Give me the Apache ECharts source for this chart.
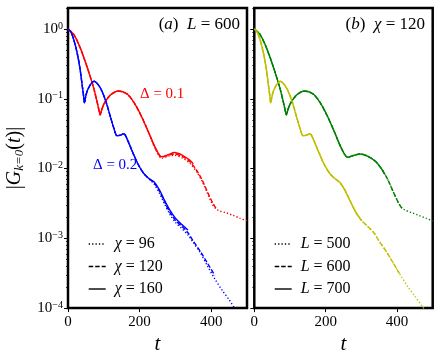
<!DOCTYPE html>
<html><head><meta charset="utf-8">
<script src="https://cdn.jsdelivr.net/npm/echarts@6/dist/echarts.min.js"></script>
<style>html,body{margin:0;padding:0;background:#fff}#c{width:440px;height:360px}</style>
</head><body><div id="c"></div>
<script>
const FONT = 'Liberation Serif';
// ---- shared early part (identical for all chi / L) ----
const tD01Early = [0,15,30,45,60,72,82,86,90,94,100,108,120,140,165,185,205,225];
const gD01Early = [1,0.851,0.603,0.380,0.224,0.141,0.0871,0.0708,0.0589,0.0692,0.0832,0.0977,0.115,0.129,0.117,0.0871,0.0562,0.0331];
const tD02Early = [0,8,16,25,33,40,44,46,49,53,58,65,73,83,93,106,118,128,137,147,156,167,180,195,210,225];
const gD02Early = [1,0.912,0.708,0.468,0.282,0.151,0.105,0.0871,0.105,0.126,0.145,0.166,0.178,0.162,0.135,0.0912,0.0562,0.0380,0.0295,0.0302,0.0316,0.0251,0.0174,0.0117,0.00871,0.00724];
// ---- panel (a): L = 600, tails per chi ----
const tRed160 = [245,262,280,297,320,340,350];
const gRed160 = [0.0195,0.0148,0.0158,0.0170,0.0155,0.0132,0.0117];
const tRed120 = [245,262,280,297,320,340,360,375,390,405,415];
const gRed120 = [0.0191,0.0145,0.0155,0.0162,0.0148,0.0126,0.0093,0.0068,0.00457,0.00316,0.00263];
const tRed96  = [245,262,280,297,320,340,360,375,390,403,412,422,440,460,480,500];
const gRed96  = [0.0186,0.0141,0.0151,0.0155,0.0141,0.0120,0.0089,0.0065,0.00437,0.00309,0.00269,0.00248,0.00234,0.00214,0.00195,0.00178];
const tBlue160 = [240,255,270,285,300,318,335];
const gBlue160 = [0.00646,0.00501,0.00347,0.00251,0.00195,0.00158,0.00132];
const tBlue120 = [240,255,270,285,300,318,335,350,370,390,410];
const gBlue120 = [0.00631,0.00479,0.00331,0.00234,0.00182,0.00148,0.00120,0.000912,0.000646,0.000437,0.000295];
const tBlue96  = [240,255,270,285,300,318,335,350,370,390,410,430,450,470,490];
const gBlue96  = [0.00603,0.00447,0.00309,0.00219,0.00170,0.00138,0.00112,0.000871,0.000617,0.000398,0.000263,0.000182,0.000132,0.0000912,0.0000631];
// ---- panel (b): chi = 120, tails per L ----
const tGreen700 = [245,262,280,297,320,340,355,365];
const gGreen700 = [0.0191,0.0145,0.0155,0.0162,0.0148,0.0126,0.0102,0.0083];
const tGreen600 = [245,262,280,297,320,340,360,375,390,405,415];
const gGreen600 = [0.0191,0.0145,0.0155,0.0162,0.0148,0.0126,0.0093,0.0068,0.00457,0.00316,0.00263];
const tGreen500 = [245,262,280,297,320,340,360,375,390,405,415,425,440,460,480,500];
const gGreen500 = [0.0191,0.0145,0.0155,0.0162,0.0148,0.0126,0.0093,0.0068,0.00457,0.00316,0.00269,0.00251,0.00234,0.00214,0.00195,0.00178];
const tYellow700 = [240,255,270,285,300];
const gYellow700 = [0.00631,0.00479,0.00331,0.00234,0.00182];
const tYellow600 = [240,255,270,285,300,318,335,350,370,390,410];
const gYellow600 = [0.00631,0.00479,0.00331,0.00234,0.00182,0.00148,0.00120,0.000912,0.000646,0.000437,0.000295];
const tYellow500 = [240,255,270,285,300,318,335,350,370,390,410,430,450,470,490];
const gYellow500 = [0.00631,0.00479,0.00331,0.00234,0.00182,0.00148,0.00120,0.000912,0.000646,0.000437,0.000295,0.000204,0.000148,0.000107,0.0000776];
// ---- axes ----
const xTicks = [0,200,400];
const yMajorExp = [-4,-3,-2,-1,0];
const legendA = ['χ = 96','χ = 120','χ = 160'];
const legendB = ['L = 500','L = 600','L = 700'];
const yMin = 1e-4, yMax = 2;
const yTop = Math.log10(yMax);
const yMinor = [];
for (let e = -4; e <= 0; e++) for (let m = 2; m <= 9; m++) { const v = e + Math.log10(m); if (v <= yTop) yMinor.push(v); }

const RED='#ff0000', BLUE='#0000ff', GREEN='#008000', YEL='#bfbf00';
const DOT=[1.3,2.1], DASH=[4.5,2];
function pts(t0,g0,t1,g1){ const a=t0.map((t,i)=>[t,g0[i]]); return a.concat(t1.map((t,i)=>[t,g1[i]])); }
function line(name, gi, color, type, data, z){
  return {type:'line', name, xAxisIndex:gi, yAxisIndex:gi, data, smooth:0.3, symbol:'none', z,
    lineStyle:{color, width:1.4, type}, itemStyle:{color}, emphasis:{disabled:true}, silent:true};
}
const series = [
  line(legendA[0],0,RED,DOT,pts(tD01Early,gD01Early,tRed96,gRed96),2),
  line(legendA[1],0,RED,DASH,pts(tD01Early,gD01Early,tRed120,gRed120),3),
  line(legendA[2],0,RED,'solid',pts(tD01Early,gD01Early,tRed160,gRed160),4),
  line(legendA[0],0,BLUE,DOT,pts(tD02Early,gD02Early,tBlue96,gBlue96),2),
  line(legendA[1],0,BLUE,DASH,pts(tD02Early,gD02Early,tBlue120,gBlue120),3),
  line(legendA[2],0,BLUE,'solid',pts(tD02Early,gD02Early,tBlue160,gBlue160),4),
  line(legendB[0],1,GREEN,DOT,pts(tD01Early,gD01Early,tGreen500,gGreen500),2),
  line(legendB[1],1,GREEN,DASH,pts(tD01Early,gD01Early,tGreen600,gGreen600),3),
  line(legendB[2],1,GREEN,'solid',pts(tD01Early,gD01Early,tGreen700,gGreen700),4),
  line(legendB[0],1,YEL,DOT,pts(tD02Early,gD02Early,tYellow500,gYellow500),2),
  line(legendB[1],1,YEL,DASH,pts(tD02Early,gD02Early,tYellow600,gYellow600),3),
  line(legendB[2],1,YEL,'solid',pts(tD02Early,gD02Early,tYellow700,gYellow700),4)
];
const tickLab = {fontFamily:FONT, fontSize:15, color:'#000'};
function xAx(gi){
  return {gridIndex:gi, type:'value', min:0, max:500, position:'bottom',
    axisLine:{show:false,onZero:false}, splitLine:{show:false},
    axisTick:{customValues:xTicks, length:4, lineStyle:{color:'#000',width:1}},
    axisLabel:Object.assign({customValues:xTicks, margin:6}, tickLab),
    name:'t', nameLocation:'middle', nameGap:22,
    nameTextStyle:{fontFamily:FONT, fontStyle:'italic', fontSize:21, color:'#000'}};
}
function yLog(gi){ return {gridIndex:gi, type:'log', min:yMin, max:yMax, position:'left', show:false}; }
function yMaj(gi, labels){
  const o = {gridIndex:gi, type:'value', min:-4, max:yTop, position:'left',
    axisLine:{show:false,onZero:false}, splitLine:{show:false},
    axisTick:{customValues:yMajorExp, length:4, lineStyle:{color:'#000',width:1}},
    axisLabel:{show:labels, customValues:yMajorExp, margin:5, color:'#000',
      formatter:v=>'{b|10}{s|'+(Math.round(v)<0?'−'+Math.abs(Math.round(v)):Math.round(v))+'}',
      rich:{b:{fontFamily:FONT,fontSize:15,lineHeight:16,color:'#000'},
            s:{fontFamily:FONT,fontSize:10,lineHeight:10,verticalAlign:'top',color:'#000'}}}};
  if (labels) {
    o.name = '{v||}{g|G}{k|k=0}{v|(}{t|t}{v|)|}';
    o.nameLocation = 'middle'; o.nameGap = 42; o.nameRotate = 90;
    o.nameTextStyle = {rich:{
      v:{fontFamily:FONT,fontSize:20,color:'#000',lineHeight:22},
      g:{fontFamily:FONT,fontSize:20,fontStyle:'italic',color:'#000',lineHeight:22},
      t:{fontFamily:FONT,fontSize:20,fontStyle:'italic',color:'#000',lineHeight:22},
      k:{fontFamily:FONT,fontSize:13,fontStyle:'italic',color:'#000',lineHeight:13,verticalAlign:'bottom'}}};
  }
  return o;
}
function yMin2(gi){
  return {gridIndex:gi, type:'value', min:-4, max:yTop, position:'left',
    axisLine:{show:false,onZero:false}, splitLine:{show:false},
    axisTick:{customValues:yMinor, length:2, lineStyle:{color:'#000',width:0.8}},
    axisLabel:{show:false}};
}
function leg(left, names, sym){
  return {left, top:231, orient:'vertical', itemWidth:17, itemHeight:14, itemGap:6.5,
    selectedMode:false,
    data:names.map(n=>({name:n, lineStyle:{color:'#000', width:1.4},
      itemStyle:{color:'rgba(0,0,0,0)', borderColor:'rgba(0,0,0,0)', borderWidth:0, opacity:0}})),
    formatter:n=>'{i|'+sym+'}{n|'+n.slice(1)+'}',
    textStyle:{color:'#000', rich:{
      i:{fontFamily:FONT,fontSize:16,fontStyle:'italic',color:'#000',padding:[0,0,0,4]},
      n:{fontFamily:FONT,fontSize:16,color:'#000'}}}};
}
const rt = {
  n:{fontFamily:FONT,fontSize:17,fill:'#000'},
  i:{fontFamily:FONT,fontSize:17,fontStyle:'italic',fill:'#000'}
};
const option = {
  animation:false,
  backgroundColor:'#fff',
  grid:[
    {left:68, top:8, width:179, height:301, show:true, borderColor:'#000', borderWidth:2.5, backgroundColor:'transparent'},
    {left:254.3, top:8, width:178.4, height:301, show:true, borderColor:'#000', borderWidth:2.5, backgroundColor:'transparent'}
  ],
  xAxis:[xAx(0), xAx(1)],
  yAxis:[yLog(0), yLog(1), yMaj(0,true), yMin2(0), yMaj(1,false), yMin2(1)],
  legend:[leg(83, legendA, 'χ'), leg(269, legendB, 'L')],
  series,
  graphic:[
    {type:'text', right:440-240, top:16, style:{text:'{n|(}{i|a}{n|)  }{i|L}{n| = 600}', rich:rt, fontFamily:FONT, fontSize:17}},
    {type:'text', right:440-425, top:16, style:{text:'{n|(}{i|b}{n|)  }{i|χ}{n| = 120}', rich:rt, fontFamily:FONT, fontSize:17}},
    {type:'text', left:140, top:87, style:{text:'Δ = 0.1', fill:RED, fontFamily:FONT, fontSize:15}},
    {type:'text', left:93, top:158, style:{text:'Δ = 0.2', fill:BLUE, fontFamily:FONT, fontSize:15}}
  ]
};
const chart = echarts.init(document.getElementById('c'), null, {renderer:'canvas'});
chart.setOption(option);
</script></body></html>
